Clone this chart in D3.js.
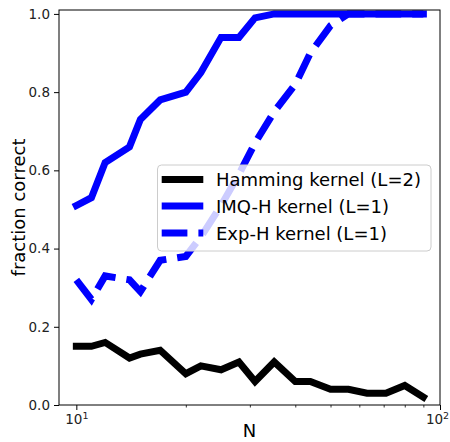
<!DOCTYPE html>
<html>
<head>
<meta charset="utf-8">
<script src="https://cdn.jsdelivr.net/npm/d3@7"></script>
<style>
  html, body { margin: 0; padding: 0; background: #fff; }
  svg { display: block; font-family: "DejaVu Sans", sans-serif; }
</style>
</head>
<body>
<svg id="chart" width="450" height="442"></svg>
<script>
// ---- data ----
const N = [10, 11, 12, 14, 15, 17, 20, 22, 25, 28, 31, 35, 40, 44, 50, 56, 63, 71, 80, 90];
const hamming = [0.15, 0.15, 0.16, 0.12, 0.13, 0.14, 0.08, 0.10, 0.09, 0.11, 0.06, 0.11, 0.06, 0.06, 0.04, 0.04, 0.03, 0.03, 0.05, 0.02];
const imqH = [0.51, 0.53, 0.62, 0.66, 0.73, 0.78, 0.80, 0.85, 0.94, 0.94, 0.99, 1.0, 1.0, 1.0, 1.0, 1.0, 1.0, 1.0, 1.0, 1.0];
const expH = [0.32, 0.27, 0.33, 0.32, 0.29, 0.37, 0.38, 0.43, 0.51, 0.59, 0.67, 0.75, 0.82, 0.90, 0.97, 1.0, 1.0, 1.0, 1.0, 1.0];
const seriesNames = ["Hamming kernel (L=2)", "IMQ-H kernel (L=1)", "Exp-H kernel (L=1)"];
const yTicks = [0.0, 0.2, 0.4, 0.6, 0.8, 1.0];
const xMajorTicks = [10, 100];
const xMajorExp = ["1", "2"];
const xMinorTicks = [20, 30, 40, 50, 60, 70, 80, 90];
const xLabel = "N";
const yLabel = "fraction correct";

// ---- layout ----
const L = 59, R = 440, T = 10, B = 405;
const svg = d3.select("#chart");

const x = d3.scaleLog().domain([8.96, 100]).range([L, R]);
const y = d3.scaleLinear().domain([0, 1.01]).range([B, T]);

const series = [
  { name: seriesNames[0], values: hamming, color: "#000000", dash: null },
  { name: seriesNames[1], values: imqH, color: "#0000ff", dash: null },
  { name: seriesNames[2], values: expH, color: "#0000ff", dash: "25.7,11" }
];

svg.append("defs").append("clipPath").attr("id", "clip")
  .append("rect").attr("x", L).attr("y", T).attr("width", R - L).attr("height", B - T);

const line = d3.line().x((d, i) => x(N[i])).y(d => y(d));

const plot = svg.append("g").attr("clip-path", "url(#clip)");
series.forEach(s => {
  plot.append("path")
    .datum(s.values)
    .attr("d", line)
    .attr("fill", "none")
    .attr("stroke", s.color)
    .attr("stroke-width", 7)
    .attr("stroke-linejoin", "miter")
    .attr("stroke-linecap", s.dash ? "butt" : "square")
    .attr("stroke-dasharray", s.dash);
});

// ---- axes ----
const yAxis = d3.axisLeft(y).tickValues(yTicks).tickFormat(d3.format(".1f")).tickSize(5).tickPadding(4);
const gy = svg.append("g").attr("transform", `translate(${L},0)`).call(yAxis);
gy.select(".domain").remove();
gy.selectAll(".tick line").attr("stroke", "#000").attr("stroke-width", 1);
gy.selectAll(".tick text").attr("font-size", 13.5).attr("fill", "#222")
  .attr("font-family", "DejaVu Sans");

const xAxisMajor = d3.axisBottom(x).tickValues(xMajorTicks).tickFormat(() => "").tickSize(5);
const gx = svg.append("g").attr("transform", `translate(0,${B})`).call(xAxisMajor);
gx.select(".domain").remove();
gx.selectAll(".tick line").attr("stroke", "#000").attr("stroke-width", 1);
gx.selectAll(".tick").each(function(d, i) {
  const t = d3.select(this).append("text")
    .attr("x", i === xMajorTicks.length - 1 ? -3 : 0)
    .attr("y", 19).attr("text-anchor", "middle")
    .attr("font-size", 13.5).attr("fill", "#222").attr("font-family", "DejaVu Sans");
  t.append("tspan").text("10");
  t.append("tspan").attr("dy", -5.5).attr("font-size", 9.5).text(xMajorExp[i]);
});

const xAxisMinor = d3.axisBottom(x).tickValues(xMinorTicks).tickFormat(() => "").tickSize(2.5);
const gxm = svg.append("g").attr("transform", `translate(0,${B})`).call(xAxisMinor);
gxm.select(".domain").remove();
gxm.selectAll(".tick line").attr("stroke", "#000").attr("stroke-width", 0.8);

// spines
svg.append("rect").attr("x", L).attr("y", T).attr("width", R - L).attr("height", B - T)
  .attr("fill", "none").attr("stroke", "#000").attr("stroke-width", 1);

// axis labels
svg.append("text").attr("x", (L + R) / 2).attr("y", 437).attr("text-anchor", "middle")
  .attr("font-size", 18).attr("fill", "#000").text(xLabel);
svg.append("text").attr("transform", `translate(25,${(T + B) / 2}) rotate(-90)`)
  .attr("text-anchor", "middle").attr("font-size", 18).attr("fill", "#000").text(yLabel);

// ---- legend ----
const lg = svg.append("g");
lg.append("rect").attr("x", 157.5).attr("y", 165).attr("width", 273.5).attr("height", 86)
  .attr("rx", 4).attr("fill", "rgba(255,255,255,0.8)").attr("stroke", "#cccccc").attr("stroke-width", 1);
const rowY = [179.5, 206, 233];
series.forEach((s, i) => {
  lg.append("line").attr("x1", 161.7).attr("x2", 203.3).attr("y1", rowY[i]).attr("y2", rowY[i])
    .attr("stroke", s.color).attr("stroke-width", 7).attr("stroke-dasharray", s.dash);
  lg.append("text").attr("x", 216).attr("y", rowY[i] + 6.5).attr("font-size", 18)
    .attr("fill", "#000").text(s.name);
});
</script>
</body>
</html>
